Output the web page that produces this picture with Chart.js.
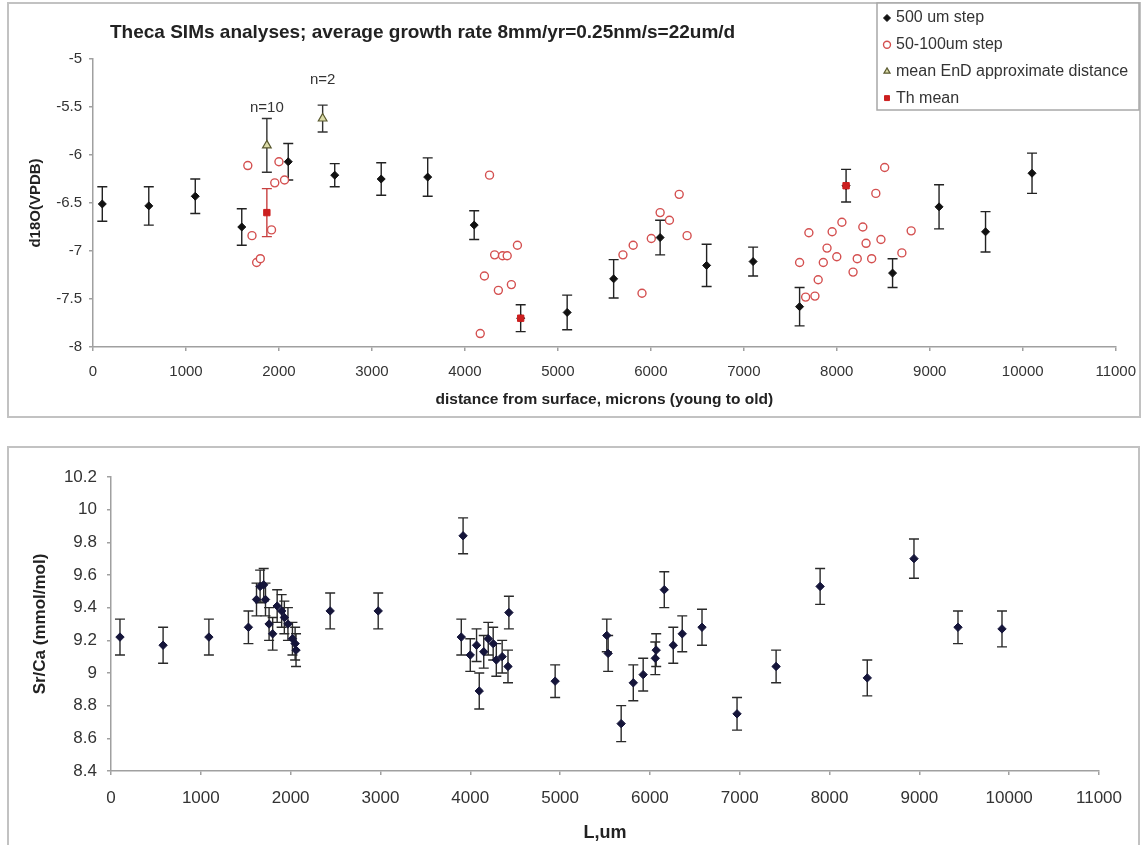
<!DOCTYPE html>
<html>
<head>
<meta charset="utf-8">
<script src="https://cdn.jsdelivr.net/npm/chart.js@4.4.0/dist/chart.umd.min.js"></script>
<style>
  html, body { margin: 0; padding: 0; background: #fff; overflow: hidden; }
  body { width: 1148px; height: 845px; position: relative; }
  .frame { position: absolute; border: 2px solid #c2c2c2; box-sizing: border-box; }
  canvas { position: absolute; left: 0; }
</style>
</head>
<body>
<div class="frame" style="left:7px;top:2px;width:1134px;height:416px"></div>
<div class="frame" style="left:7px;top:446px;width:1133px;height:420px"></div>
<canvas id="d18oChart" width="1148" height="425" style="top:0"></canvas>
<canvas id="srcaChart" width="1148" height="420" style="top:425px"></canvas>

<script>
// --- d18O, 500 um steps ---
const stepX = [100, 600, 1100, 1600, 2100, 2600, 3100, 3600, 4100, 4600, 5100, 5600, 6100, 6600, 7100, 7600, 8100, 8600, 9100, 9600, 10100];
const stepD18O = [-6.51, -6.53, -6.43, -6.75, -6.07, -6.21, -6.25, -6.23, -6.73, -7.7, -7.64, -7.29, -6.86, -7.15, -7.11, -7.58, -6.32, -7.23, -6.54, -6.8, -6.19];
const stepErr = [0.18, 0.2, 0.18, 0.19, 0.19, 0.12, 0.17, 0.2, 0.15, 0.14, 0.18, 0.2, 0.18, 0.22, 0.15, 0.2, 0.17, 0.15, 0.23, 0.21, 0.21];

// --- d18O, 50-100 um steps ---
const fineX = [1665, 1710, 1760, 1800, 1920, 1955, 2000, 2060,
  4165, 4210, 4265, 4320, 4360, 4405, 4455, 4500, 4565,
  5700, 5810, 5905, 6005, 6100, 6200, 6305, 6390,
  7600, 7665, 7700, 7765, 7800, 7855, 7895, 7950, 8000, 8055, 8175, 8220, 8280, 8315, 8375, 8420, 8475, 8515, 8700, 8800];
const fineD18O = [-6.11, -6.84, -7.12, -7.08, -6.78, -6.29, -6.07, -6.26,
  -7.86, -7.26, -6.21, -7.04, -7.41, -7.05, -7.05, -7.35, -6.94,
  -7.04, -6.94, -7.44, -6.87, -6.6, -6.68, -6.41, -6.84,
  -7.12, -7.48, -6.81, -7.47, -7.3, -7.12, -6.97, -6.8, -7.06, -6.7, -7.22, -7.08, -6.75, -6.92, -7.08, -6.4, -6.88, -6.13, -7.02, -6.79];

// --- mean EnD (approximate distance) ---
const endX = [1870, 2470];
const endD18O = [-5.9, -5.62];
const endErr = [0.28, 0.14];
const endLabels = ['n=10', 'n=2'];

// --- Th mean ---
const thX = [1870, 4600, 8100];
const thD18O = [-6.6, -7.7, -6.32];
const thErr = [0.25, 0, 0];

// --- Sr/Ca ---
const srX = [100, 580, 1090, 1530, 1620, 1660, 1700, 1720, 1760, 1800, 1850, 1900, 1930, 1970, 2020, 2050, 2060,
  2440, 2975, 3900, 3920, 4000, 4070, 4100, 4150, 4200, 4255, 4290, 4355, 4420, 4430, 4945,
  5520, 5535, 5680, 5815, 5925, 6060, 6070, 6160, 6260, 6360, 6580, 6970, 7405, 7895, 8420, 8940, 9430, 9920];
const srCa = [9.22, 9.17, 9.22, 9.28, 9.45, 9.53, 9.54, 9.45, 9.3, 9.24, 9.41, 9.38, 9.34, 9.3, 9.21, 9.18, 9.14,
  9.38, 9.38, 9.22, 9.84, 9.11, 9.17, 8.89, 9.13, 9.21, 9.18, 9.08, 9.1, 9.04, 9.37, 8.95,
  9.23, 9.12, 8.69, 8.94, 8.99, 9.09, 9.14, 9.51, 9.17, 9.24, 9.28, 8.75, 9.04, 9.53, 8.97, 9.7, 9.28, 9.27];
const srErr = [0.11, 0.11, 0.11, 0.1, 0.1, 0.1, 0.1, 0.1, 0.1, 0.1, 0.1, 0.1, 0.1, 0.1, 0.1, 0.1, 0.1,
  0.11, 0.11, 0.11, 0.11, 0.1, 0.1, 0.11, 0.1, 0.1, 0.1, 0.1, 0.1, 0.1, 0.1, 0.1,
  0.1, 0.11, 0.11, 0.11, 0.1, 0.1, 0.1, 0.11, 0.11, 0.11, 0.11, 0.1, 0.1, 0.11, 0.11, 0.12, 0.1, 0.11];

const pts = (xs, ys) => xs.map((x, i) => ({ x: x, y: ys[i] }));

Chart.defaults.font.family = '"Liberation Sans", Arial, sans-serif';
Chart.defaults.color = '#333';
Chart.defaults.animation = false;

// vertical error bars with caps, drawn underneath the markers
const errorBars = {
  id: 'errorBars',
  beforeDatasetsDraw(chart) {
    const { ctx, scales: { x, y } } = chart;
    chart.data.datasets.forEach(ds => {
      if (!ds.errors) return;
      ctx.save();
      ctx.strokeStyle = ds.errorColor || '#222';
      ctx.lineWidth = 1.4;
      ds.data.forEach((p, j) => {
        const e = ds.errors[j];
        if (!e) return;
        const px = x.getPixelForValue(p.x);
        const top = y.getPixelForValue(p.y + e);
        const bot = y.getPixelForValue(p.y - e);
        ctx.beginPath();
        ctx.moveTo(px, top); ctx.lineTo(px, bot);
        ctx.moveTo(px - 5, top); ctx.lineTo(px + 5, top);
        ctx.moveTo(px - 5, bot); ctx.lineTo(px + 5, bot);
        ctx.stroke();
      });
      ctx.restore();
    });
  }
};

// plain-text heading in the top left
const heading = {
  id: 'heading',
  afterDraw(chart, args, opts) {
    if (!opts.text) return;
    const ctx = chart.ctx;
    ctx.save();
    ctx.font = 'bold 19px "Liberation Sans", Arial, sans-serif';
    ctx.fillStyle = '#222';
    ctx.textBaseline = 'middle';
    ctx.fillText(opts.text, opts.x, opts.y);
    ctx.restore();
  }
};

// "n=" counts above the EnD points
const countLabels = {
  id: 'countLabels',
  afterDatasetsDraw(chart, args, opts) {
    if (!opts.labels) return;
    const { ctx, scales: { x, y } } = chart;
    const ds = chart.data.datasets[opts.dataset];
    ctx.save();
    ctx.font = '15px "Liberation Sans", Arial, sans-serif';
    ctx.fillStyle = '#333';
    ctx.textAlign = 'center';
    ctx.textBaseline = 'middle';
    ds.data.forEach((p, j) => {
      const px = x.getPixelForValue(p.x);
      const py = y.getPixelForValue(p.y + ds.errors[j]);
      ctx.fillText(opts.labels[j], px, py - opts.gap[j]);
    });
    ctx.restore();
  }
};

// boxed legend in the top right corner
const boxLegend = {
  id: 'boxLegend',
  afterDraw(chart, args, opts) {
    if (!opts.show) return;
    const ctx = chart.ctx;
    ctx.save();
    ctx.fillStyle = '#fff';
    ctx.fillRect(opts.left, opts.top, opts.width, opts.height);
    ctx.strokeStyle = '#a8a8a8';
    ctx.lineWidth = 1.5;
    ctx.strokeRect(opts.left, opts.top, opts.width, opts.height);
    ctx.font = '16px "Liberation Sans", Arial, sans-serif';
    ctx.textBaseline = 'middle';
    chart.data.datasets.forEach((ds, i) => {
      const cy = opts.top + 15 + i * opts.row;
      ctx.fillStyle = ds.backgroundColor;
      ctx.strokeStyle = ds.borderColor;
      ctx.lineWidth = ds.borderWidth;
      Chart.helpers.drawPoint(ctx, { pointStyle: ds.pointStyle, radius: 3.5, rotation: 0, borderWidth: ds.borderWidth }, opts.left + 10, cy);
      ctx.fillStyle = '#333';
      ctx.fillText(ds.label, opts.left + 19, cy);
    });
    ctx.restore();
  }
};

const axisLine = { color: '#a0a0a0', width: 1.5 };
const tickGrid = { drawOnChartArea: false, tickLength: 4, color: '#a0a0a0', lineWidth: 1.5 };
const oneDecimal = v => String(+v.toFixed(1));

new Chart(document.getElementById('d18oChart'), {
  type: 'scatter',
  data: {
    datasets: [
      { label: '500 um step', data: pts(stepX, stepD18O), errors: stepErr,
        pointStyle: 'rectRot', radius: 4, backgroundColor: '#111', borderColor: '#111', borderWidth: 1, order: 2 },
      { label: '50-100um step', data: pts(fineX, fineD18O),
        pointStyle: 'circle', radius: 4, backgroundColor: '#fff', borderColor: '#d45050', borderWidth: 1.4, order: 3 },
      { label: 'mean EnD approximate distance', data: pts(endX, endD18O), errors: endErr, errorColor: '#333',
        pointStyle: 'triangle', radius: 5, backgroundColor: '#dcdca8', borderColor: '#5a5a30', borderWidth: 1.2, order: 1 },
      { label: 'Th mean', data: pts(thX, thD18O), errors: thErr, errorColor: '#c84040',
        pointStyle: 'rect', radius: 4.5, backgroundColor: '#cc1f1f', borderColor: '#cc1f1f', borderWidth: 1, order: 0 }
    ]
  },
  options: {
    responsive: false,
    layout: { padding: { top: 59, left: 27, right: 31, bottom: 16 } },
    plugins: {
      legend: { display: false },
      tooltip: { enabled: false },
      heading: { text: 'Theca SIMs analyses; average growth rate 8mm/yr=0.25nm/s=22um/d', x: 110, y: 33 },
      countLabels: { dataset: 2, labels: endLabels, gap: [11, 25] },
      boxLegend: { show: true, left: 877, top: 3, width: 262, height: 107, row: 26.7 }
    },
    scales: {
      x: {
        type: 'linear', min: 0, max: 11000,
        afterFit: s => { s.height = 62; },
        ticks: { stepSize: 1000, padding: 12, font: { size: 15 }, maxRotation: 0, autoSkip: false, callback: v => String(v) },
        grid: tickGrid, border: axisLine,
        title: { display: true, text: 'distance from surface, microns (young to old)', color: '#222',
                 font: { size: 15.5, weight: 'bold' }, padding: 0 }
      },
      y: {
        min: -8, max: -5,
        afterFit: s => { s.width = 66; },
        ticks: { stepSize: 0.5, padding: 7, font: { size: 15 }, callback: oneDecimal },
        grid: tickGrid, border: axisLine,
        title: { display: true, text: 'd18O(VPDB)', color: '#222', font: { size: 15, weight: 'bold' }, padding: 0 }
      }
    }
  },
  plugins: [errorBars, heading, countLabels, boxLegend]
});

new Chart(document.getElementById('srcaChart'), {
  type: 'scatter',
  data: {
    datasets: [
      { label: 'Sr/Ca', data: pts(srX, srCa), errors: srErr, errorColor: '#2a2a2a',
        pointStyle: 'rectRot', radius: 4.2, backgroundColor: '#15153a', borderColor: '#15153a', borderWidth: 1 }
    ]
  },
  options: {
    responsive: false,
    layout: { padding: { top: 52, left: 30, right: 49, bottom: 1 } },
    plugins: { legend: { display: false }, tooltip: { enabled: false } },
    scales: {
      x: {
        type: 'linear', min: 0, max: 11000,
        afterFit: s => { s.height = 73; },
        ticks: { stepSize: 1000, padding: 13, font: { size: 17 }, maxRotation: 0, autoSkip: false, callback: v => String(v) },
        grid: tickGrid, border: axisLine,
        title: { display: true, text: 'L,um', color: '#222', font: { size: 18, weight: 'bold' }, padding: 0 }
      },
      y: {
        min: 8.4, max: 10.2,
        afterFit: s => { s.width = 81; },
        ticks: { stepSize: 0.2, padding: 10, font: { size: 17 }, callback: oneDecimal },
        grid: tickGrid, border: axisLine,
        title: { display: true, text: 'Sr/Ca (mmol/mol)', color: '#222', font: { size: 17, weight: 'bold' }, padding: 0 }
      }
    }
  },
  plugins: [errorBars]
});
</script>
</body>
</html>
